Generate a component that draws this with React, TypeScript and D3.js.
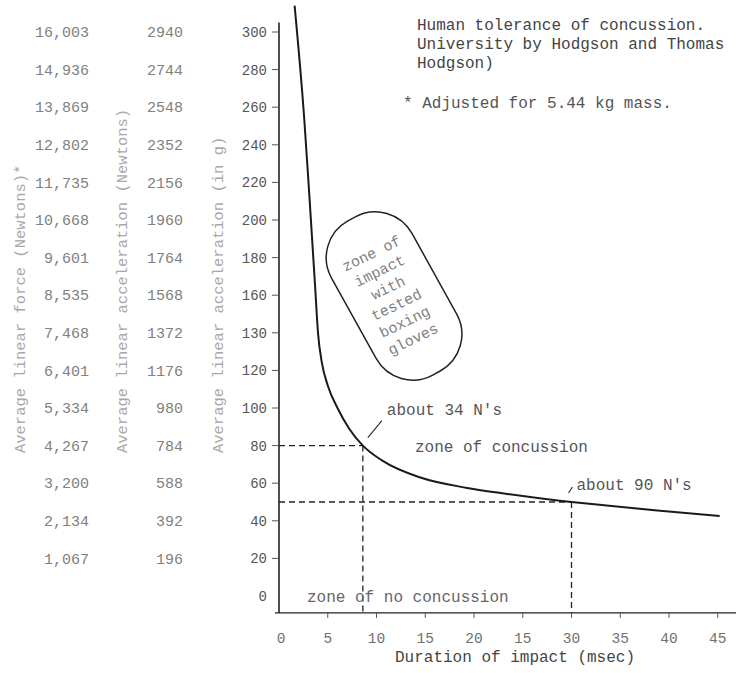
import { useEffect, useRef } from "react";
import * as d3 from "d3";

// curve: duration (msec) vs acceleration (g)
const durationMs = [1.6, 2.6, 3.1, 3.7, 4.0, 4.4, 5.0, 6.0, 7.2, 8.6, 10.6, 14.5, 19.3, 23.4, 28.8, 30, 33.6, 38.8, 45.2];
const accelG = [314, 253, 214, 165, 140, 124, 112, 100, 89, 80, 72, 63, 57.5, 54.3, 50.7, 50, 48.1, 45.5, 42.6];

// tick rows (the scan prints "130" where 140 belongs and "15" for 25, kept as-is)
const gTicks = [0, 20, 40, 60, 80, 100, 120, 140, 160, 180, 200, 220, 240, 260, 280, 300];
const gLabels = ["0", "20", "40", "60", "80", "100", "120", "130", "160", "180", "200", "220", "240", "260", "280", "300"];
const forceLabels = ["1,067", "2,134", "3,200", "4,267", "5,334", "6,401", "7,468", "8,535", "9,601", "10,668", "11,735", "12,802", "13,869", "14,936", "16,003"];
const accelNLabels = ["196", "392", "588", "784", "980", "1176", "1372", "1568", "1764", "1960", "2156", "2352", "2548", "2744", "2940"];
const msTicks = [0, 5, 10, 15, 20, 25, 30, 35, 40, 45];
const msLabels = ["0", "5", "10", "15", "20", "15", "30", "35", "40", "45"];

// threshold points marked with dashed guides
const thresholds = [
  { ms: 8.6, g: 80, label: "about 34 N's" },
  { ms: 30, g: 50, label: "about 90 N's" },
];

const gloveZoneLines = ["zone of", "impact", "with", "tested", "boxing", "gloves"];
const noteLines = [
  "Human tolerance of concussion.",
  "University by Hodgson and Thomas",
  "Hodgson)",
];

export default function App() {
  const svgRef = useRef<SVGSVGElement | null>(null);

  useEffect(() => {
    if (!svgRef.current) return;
    const width = 736;
    const font = "'Liberation Mono', 'DejaVu Sans Mono', monospace";

    const svg = d3.select(svgRef.current);
    svg.selectAll("*").remove();

    const x = d3.scaleLinear().domain([0, 45]).range([279, 717.75]);
    const y = d3.scaleLinear().domain([0, 300]).range([596, 32]);

    // axis lines
    svg
      .append("line")
      .attr("x1", x(0))
      .attr("x2", x(0))
      .attr("y1", y(305))
      .attr("y2", y(-9))
      .attr("stroke", "#222")
      .attr("stroke-width", 1.6);
    svg
      .append("line")
      .attr("x1", x(0) - 4)
      .attr("x2", width)
      .attr("y1", y(-9))
      .attr("y2", y(-9))
      .attr("stroke", "#222")
      .attr("stroke-width", 1.4);

    // y ticks
    const yAxis = svg.append("g").attr("font-family", font);
    gTicks.forEach((v, i) => {
      if (v > 0) {
        yAxis
          .append("line")
          .attr("x1", x(0) - 7)
          .attr("x2", x(0))
          .attr("y1", y(v))
          .attr("y2", y(v))
          .attr("stroke", "#555")
          .attr("stroke-width", 1);
      }
      yAxis
        .append("text")
        .attr("x", x(0) - 12)
        .attr("y", y(v))
        .attr("dy", "0.35em")
        .attr("text-anchor", "end")
        .attr("font-size", 14)
        .attr("fill", "#555")
        .text(gLabels[i]);
    });

    // extra left columns
    forceLabels.forEach((lab, i) => {
      svg
        .append("text")
        .attr("x", 89)
        .attr("y", y(gTicks[i + 1]))
        .attr("dy", "0.35em")
        .attr("text-anchor", "end")
        .attr("font-family", font)
        .attr("font-size", 15)
        .attr("fill", "#808080")
        .text(lab);
    });
    accelNLabels.forEach((lab, i) => {
      svg
        .append("text")
        .attr("x", 183)
        .attr("y", y(gTicks[i + 1]))
        .attr("dy", "0.35em")
        .attr("text-anchor", "end")
        .attr("font-family", font)
        .attr("font-size", 15)
        .attr("fill", "#808080")
        .text(lab);
    });

    // rotated column titles
    const titles = [
      { cx: 20, text: "Average linear force (Newtons)*" },
      { cx: 122, text: "Average linear acceleration (Newtons)" },
      { cx: 218, text: "Average linear acceleration (in g)" },
    ];
    titles.forEach((t) => {
      svg
        .append("text")
        .attr("transform", `translate(${t.cx},453) rotate(-90)`)
        .attr("dy", "0.35em")
        .attr("font-family", font)
        .attr("font-size", 15.5)
        .attr("fill", "#a8a8a8")
        .text(t.text);
    });

    // x ticks
    msTicks.forEach((v, i) => {
      if (v > 0) {
        svg
          .append("line")
          .attr("x1", x(v))
          .attr("x2", x(v))
          .attr("y1", y(-9))
          .attr("y2", y(-9) + 5)
          .attr("stroke", "#555")
          .attr("stroke-width", 1);
      }
      svg
        .append("text")
        .attr("x", x(v) + (v === 0 ? 2 : 0))
        .attr("y", y(-9) + 30)
        .attr("text-anchor", "middle")
        .attr("font-family", font)
        .attr("font-size", 14.5)
        .attr("fill", "#707070")
        .text(msLabels[i]);
    });

    svg
      .append("text")
      .attr("x", 515)
      .attr("y", 662)
      .attr("text-anchor", "middle")
      .attr("font-family", font)
      .attr("font-size", 16)
      .attr("fill", "#444")
      .text("Duration of impact (msec)");

    // dashed guides
    thresholds.forEach((p) => {
      svg
        .append("path")
        .attr("d", `M${x(0)},${y(p.g)}H${x(p.ms)}M${x(p.ms)},${y(p.g)}V${y(-9)}`)
        .attr("fill", "none")
        .attr("stroke", "#222")
        .attr("stroke-width", 1.3)
        .attr("stroke-dasharray", "6,4");
    });

    // tolerance curve
    const pts = durationMs.map((d, i) => [d, accelG[i]] as [number, number]);
    const line = d3
      .line<[number, number]>()
      .x((d) => x(d[0]))
      .y((d) => y(d[1]))
      .curve(d3.curveMonotoneX);
    svg
      .append("path")
      .attr("d", line(pts))
      .attr("fill", "none")
      .attr("stroke", "#1a1a1a")
      .attr("stroke-width", 2);

    // threshold annotations
    const p34 = thresholds[0];
    const p90 = thresholds[1];
    svg
      .append("line")
      .attr("x1", x(p34.ms) + 5)
      .attr("y1", y(p34.g) - 8)
      .attr("x2", x(p34.ms) + 19)
      .attr("y2", y(p34.g) - 25)
      .attr("stroke", "#333")
      .attr("stroke-width", 1.2);
    svg
      .append("text")
      .attr("x", x(p34.ms) + 24)
      .attr("y", y(p34.g) - 31)
      .attr("font-family", font)
      .attr("font-size", 16)
      .attr("fill", "#555")
      .text(p34.label);
    svg
      .append("line")
      .attr("x1", x(p90.ms) - 3)
      .attr("y1", y(p90.g) - 9)
      .attr("x2", x(p90.ms) + 1)
      .attr("y2", y(p90.g) - 15)
      .attr("stroke", "#333")
      .attr("stroke-width", 1.2);
    svg
      .append("text")
      .attr("x", x(p90.ms) + 5)
      .attr("y", y(p90.g) - 12)
      .attr("font-family", font)
      .attr("font-size", 16)
      .attr("fill", "#555")
      .text(p90.label);

    svg
      .append("text")
      .attr("x", 415)
      .attr("y", 452)
      .attr("font-family", font)
      .attr("font-size", 16)
      .attr("fill", "#555")
      .text("zone of concussion");
    svg
      .append("text")
      .attr("x", 307)
      .attr("y", 602)
      .attr("font-family", font)
      .attr("font-size", 16)
      .attr("fill", "#666")
      .text("zone of no concussion");

    // glove zone blob
    const zone = svg
      .append("g")
      .attr("transform", `translate(${x(11.8)},${y(159.6)})`);
    zone
      .append("rect")
      .attr("transform", "rotate(61)")
      .attr("x", -88)
      .attr("y", -46)
      .attr("width", 176)
      .attr("height", 92)
      .attr("rx", 42)
      .attr("fill", "none")
      .attr("stroke", "#222")
      .attr("stroke-width", 1.5);
    const zt = zone.append("g").attr("transform", "translate(-2,0) rotate(-26)");
    gloveZoneLines.forEach((l, i) => {
      zt.append("text")
        .attr("x", 0)
        .attr("y", (i - 2.5) * 19)
        .attr("dy", "0.35em")
        .attr("text-anchor", "middle")
        .attr("font-family", font)
        .attr("font-size", 15)
        .attr("fill", "#808080")
        .text(l);
    });

    // note top right
    noteLines.forEach((l, i) => {
      svg
        .append("text")
        .attr("x", 417)
        .attr("y", 30 + i * 19)
        .attr("font-family", font)
        .attr("font-size", 16)
        .attr("fill", "#444")
        .text(l);
    });
    svg
      .append("text")
      .attr("x", 403)
      .attr("y", 108)
      .attr("font-family", font)
      .attr("font-size", 16)
      .attr("fill", "#555")
      .text("* Adjusted for 5.44 kg mass.");
  }, []);

  return (
    <svg
      ref={svgRef}
      width={736}
      height={673}
      viewBox="0 0 736 673"
      style={{ position: "absolute", left: 0, top: 0, background: "#fff", display: "block" }}
    />
  );
}
